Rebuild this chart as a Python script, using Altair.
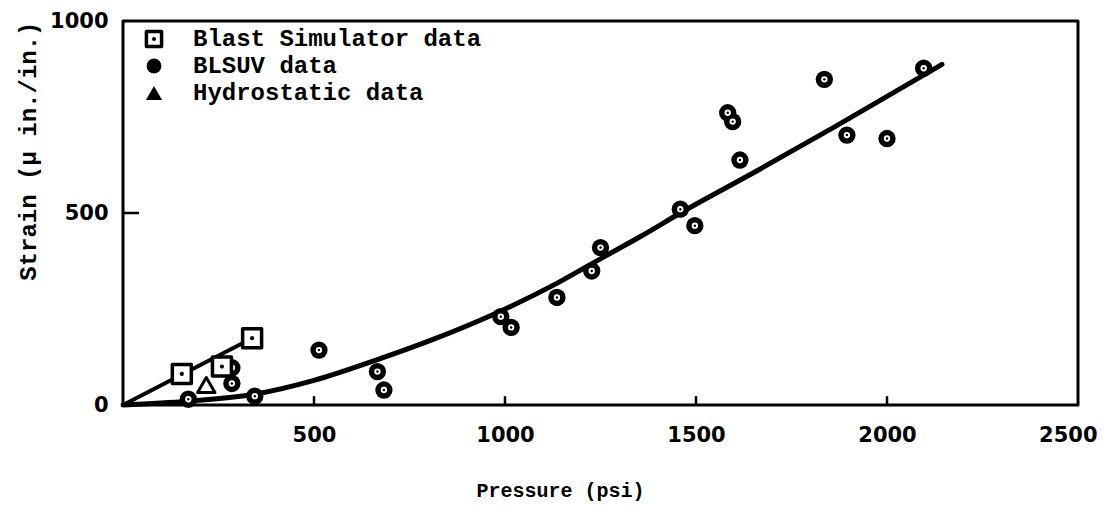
import altair as alt
import pandas as pd

# ---- data ----
blast_p = [154, 259, 338]
blast_s = [81, 100, 174]

hydro_p = [218]
hydro_s = [52]

blsuv_p = [171, 285, 285, 345, 513, 666, 683, 989, 1016, 1136, 1227, 1250,
           1459, 1497, 1583, 1596, 1615, 1836, 1895, 2000, 2096]
blsuv_s = [15, 97, 56, 23, 143, 87, 39, 230, 202, 280, 349, 410,
           510, 467, 761, 738, 638, 848, 703, 694, 877]

# fitted curve through BLSUV data
curve_p = [0, 170, 345, 500, 657, 815, 985, 1138, 1252, 1357, 1459, 1660, 1864, 2144]
curve_s = [0, 10, 28, 64, 115, 172, 243, 318, 382, 440, 500, 610, 725, 887]

# straight line through blast simulator data
bline_p = [0, 338]
bline_s = [0, 174]

x_ticks = [500, 1000, 1500, 2000, 2500]
y_ticks = [0, 500, 1000]
inner_xticks = [500, 1000, 1500, 2000]
inner_yticks = [500]

legend_labels = ["Blast Simulator data", "BLSUV data", "Hydrostatic data"]

W, H = 955, 384
MONO = "Liberation Mono"
NUM = "DejaVu Sans"

blast = pd.DataFrame({"P": blast_p, "S": blast_s})
hydro = pd.DataFrame({"P": hydro_p, "S": hydro_s})
blsuv = pd.DataFrame({"P": blsuv_p, "S": blsuv_s})
curve = pd.DataFrame({"P": curve_p, "S": curve_s})
bline = pd.DataFrame({"P": bline_p, "S": bline_s})

xs = alt.Scale(domain=[0, 2500], nice=False, zero=False)
ys = alt.Scale(domain=[0, 1000], nice=False, zero=False)

X = alt.X("P:Q", scale=xs, axis=alt.Axis(
    values=x_ticks, format="d", title="Pressure (psi)", grid=False, domain=False,
    ticks=False, tickSize=0,
    labelFont=NUM, labelFontSize=21, labelFontWeight="bold", labelColor="black",
    labelPadding=19, labelOverlap=False, labelFlush=True, labelFlushOffset=19,
    labelBound=False,
    titleFont=MONO, titleFontSize=20, titleFontWeight="bold", titleColor="black",
    titleX=437, titleY=85, titleBaseline="middle", titleAlign="center"))
Y = alt.Y("S:Q", scale=ys, axis=alt.Axis(
    values=y_ticks, format="d", title="Strain (\u03bc in./in.)", grid=False, domain=False,
    ticks=False, tickSize=0,
    labelFont=NUM, labelFontSize=21, labelFontWeight="bold", labelColor="black",
    labelPadding=15, labelOverlap=False, labelFlush=False, labelBound=False,
    titleFont=MONO, titleFontSize=24, titleFontWeight="bold", titleColor="black",
    titleAngle=270, titleX=-95, titleY=0, titleAlign="right", titleBaseline="middle"))

curve_line = alt.Chart(curve).mark_line(color="black", strokeWidth=5, strokeCap="round",
                                        interpolate="monotone").encode(
    x=X, y=Y, order="P:Q")
blast_line = alt.Chart(bline).mark_line(color="black", strokeWidth=4, strokeCap="round").encode(
    x=alt.X("P:Q", scale=xs), y=alt.Y("S:Q", scale=ys))

blsuv_outer = alt.Chart(blsuv).mark_circle(color="black", size=300, opacity=1).encode(
    x=alt.X("P:Q", scale=xs), y=alt.Y("S:Q", scale=ys))
blsuv_inner = alt.Chart(blsuv).mark_circle(color="white", size=40, opacity=1).encode(
    x=alt.X("P:Q", scale=xs), y=alt.Y("S:Q", scale=ys))
blsuv_core = alt.Chart(blsuv).mark_circle(color="black", size=6, opacity=1).encode(
    x=alt.X("P:Q", scale=xs), y=alt.Y("S:Q", scale=ys))

blast_sq = alt.Chart(blast).mark_point(shape="square", filled=True, fill="white", stroke="black",
                                       strokeWidth=3.5, strokeJoin="round", size=360,
                                       opacity=1).encode(
    x=alt.X("P:Q", scale=xs), y=alt.Y("S:Q", scale=ys))
blast_dot = alt.Chart(blast).mark_circle(color="black", size=18, opacity=1).encode(
    x=alt.X("P:Q", scale=xs), y=alt.Y("S:Q", scale=ys))

hydro_tri = alt.Chart(hydro).mark_point(shape="triangle-up", filled=True, fill="white", stroke="black",
                                        strokeWidth=3, strokeJoin="round", size=300,
                                        opacity=1).encode(
    x=alt.X("P:Q", scale=xs), y=alt.Y("S:Q", scale=ys))

# inward ticks on the frame
xtick_df = pd.DataFrame({"P": inner_xticks, "S0": [0] * len(inner_xticks),
                         "S1": [23] * len(inner_xticks)})
xtick_rules = alt.Chart(xtick_df).mark_rule(color="black", strokeWidth=2.5).encode(
    x=alt.X("P:Q", scale=xs), y=alt.Y("S0:Q", scale=ys), y2="S1:Q")
ytick_df = pd.DataFrame({"S": inner_yticks, "P0": [0] * len(inner_yticks),
                         "P1": [42] * len(inner_yticks)})
ytick_rules = alt.Chart(ytick_df).mark_rule(color="black", strokeWidth=2.5).encode(
    y=alt.Y("S:Q", scale=ys), x=alt.X("P0:Q", scale=xs), x2="P1:Q")

# plot frame
frame_df = pd.DataFrame({"P0": [0], "P1": [2500], "S0": [0], "S1": [1000]})
frame = alt.Chart(frame_df).mark_rect(fill="white", fillOpacity=0, stroke="black",
                                      strokeWidth=3, strokeJoin="round").encode(
    x=alt.X("P0:Q", scale=xs), x2="P1:Q", y=alt.Y("S0:Q", scale=ys), y2="S1:Q")

# legend (inside plot, top-left)
one = pd.DataFrame({"k": [0]})
LX, TX = 31, 70
ROWS = [18, 45, 72]
leg_sq = alt.Chart(one).mark_point(shape="square", filled=True, fill="white", stroke="black",
                                   strokeWidth=3.5, strokeJoin="round", size=230,
                                   opacity=1).encode(
    x=alt.value(LX), y=alt.value(ROWS[0]))
leg_sqdot = alt.Chart(one).mark_circle(color="black", size=16, opacity=1).encode(
    x=alt.value(LX), y=alt.value(ROWS[0]))
leg_circ = alt.Chart(one).mark_circle(color="black", size=220, opacity=1).encode(
    x=alt.value(LX), y=alt.value(ROWS[1]))
leg_tri = alt.Chart(one).mark_point(shape="triangle-up", filled=True, color="black",
                                    size=260, opacity=1).encode(
    x=alt.value(LX), y=alt.value(ROWS[2]))

leg_text_df = pd.DataFrame({"label": legend_labels, "row": [0, 1, 2]})
leg_texts = []
for i, lab in enumerate(legend_labels):
    leg_texts.append(
        alt.Chart(leg_text_df[leg_text_df["row"] == i]).mark_text(
            font=MONO, fontSize=24, fontWeight="bold", color="black",
            align="left", baseline="middle").encode(
            x=alt.value(TX), y=alt.value(ROWS[i]), text="label:N"))

chart = alt.layer(
    curve_line, blast_line, xtick_rules, ytick_rules,
    blsuv_outer, blsuv_inner, blsuv_core, blast_sq, blast_dot, hydro_tri,
    leg_sq, leg_sqdot, leg_circ, leg_tri, *leg_texts, frame
).properties(
    width=W, height=H,
    autosize=alt.AutoSizeParams(type="none"),
    padding={"left": 115, "top": 13, "right": 19, "bottom": 100},
).configure_view(
    stroke=None
).configure(background="white")

chart.save("out.html", embed_options={"renderer": "svg", "actions": False})
